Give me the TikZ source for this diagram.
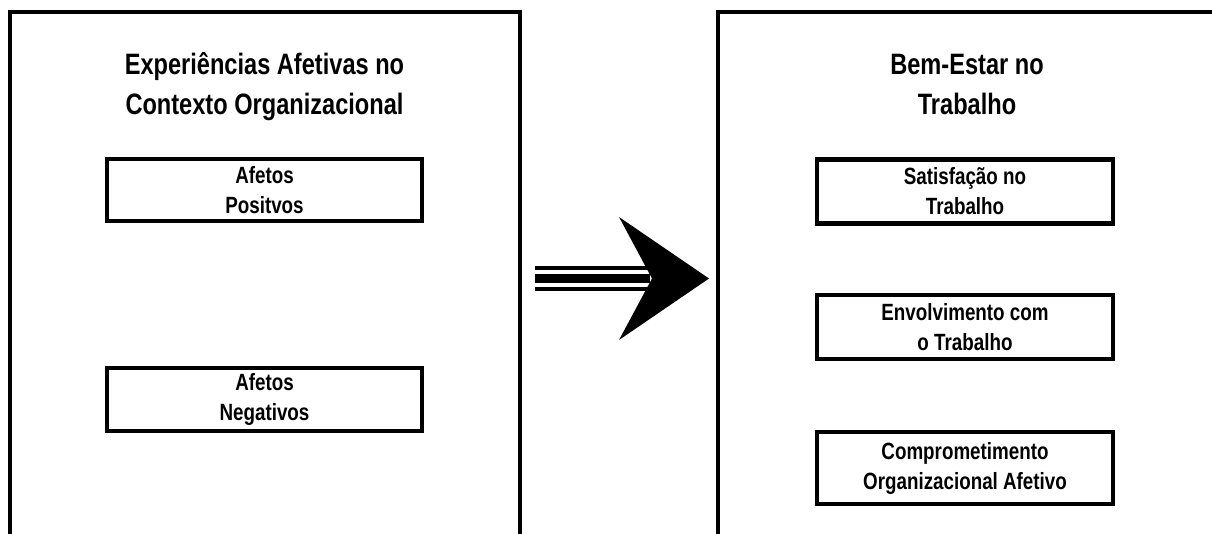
\documentclass[tikz,border=0pt]{standalone}
\usepackage{fontspec}
\newfontfamily\nbf{Liberation Sans}[FakeStretch=0.8]
\begin{document}
\begin{tikzpicture}[x=1pt,y=-1pt,
  panel/.style={line width=4pt},
  ttl/.style={font=\nbf\bfseries\fontsize{29.5}{40}\selectfont, align=center, inner sep=0pt},
  fbox/.style={draw, line width=4.5pt, font=\nbf\bfseries\fontsize{23.5}{30}\selectfont, align=center, inner sep=0pt},
  shaftthin/.style={line width=4pt},
  shaftthick/.style={line width=9pt}
]
\useasboundingbox (0,0) rectangle (1212,533);
% panels
\coordinate (lpb) at (9.5,536);
\coordinate (lpt) at (9.5,12);
\coordinate (lpr) at (520,12);
\coordinate (lprb) at (520,536);
\draw[panel] (lpb) -- (lpt) -- (lpr) -- (lprb);
\coordinate (rpb) at (718,536);
\coordinate (rpt) at (718,12);
\coordinate (rpr) at (1216,12);
\draw[panel] (rpb) -- (rpt) -- (rpr);
% titles
\node[ttl] (lt) at (264.5,87) {Experiências Afetivas no\\Contexto Organizacional};
\node[ttl] (rt) at (967,84.5) {Bem-Estar no\\Trabalho};
% boxes
\node[fbox, minimum width=315pt, minimum height=62pt] (apos) at (264.5,190) {Afetos\\Positvos};
\node[fbox, minimum width=315pt, minimum height=63pt] (aneg) at (264.5,399.5) {Afetos\\Negativos};
\node[fbox, minimum width=296pt, minimum height=64pt] (sat) at (965,191.5) {Satisfação no\\Trabalho};
\node[fbox, minimum width=296pt, minimum height=64pt] (env) at (965,327) {Envolvimento com\\o Trabalho};
\node[fbox, minimum width=296pt, minimum height=72pt] (com) at (965,468) {Comprometimento\\Organizacional Afetivo};
% arrow
\coordinate (s1a) at (535,268);  \coordinate (s1b) at (650,268);
\coordinate (s2a) at (535,278.5); \coordinate (s2b) at (650,278.5);
\coordinate (s3a) at (535,289);  \coordinate (s3b) at (650,289);
\draw[shaftthin] (s1a) -- (s1b);
\draw[shaftthick] (s2a) -- (s2b);
\draw[shaftthin] (s3a) -- (s3b);
\coordinate (hup) at (619,217);
\coordinate (htip) at (709,278.5);
\coordinate (hlo) at (619,340);
\coordinate (hnotch) at (652,278.5);
\fill (hup) -- (htip) -- (hlo) -- (hnotch) -- cycle;
\end{tikzpicture}
\end{document}
